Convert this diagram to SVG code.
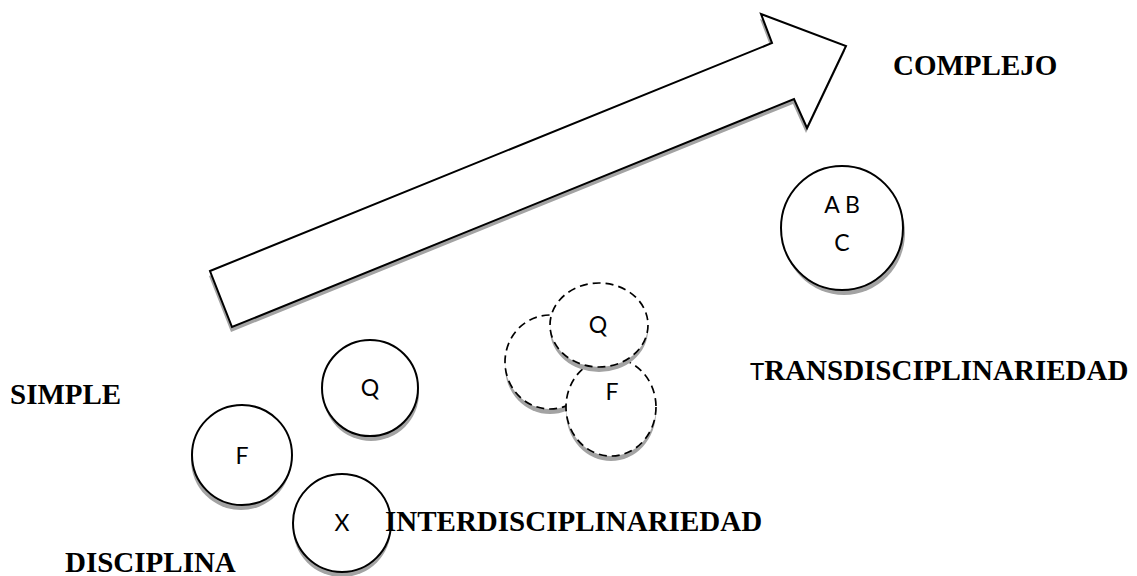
<svg xmlns="http://www.w3.org/2000/svg" width="1137" height="576" viewBox="0 0 1137 576">
  <style>
    .shape { fill: #ffffff; stroke: #000000; stroke-width: 2; }
    .dash { fill: #ffffff; stroke: #000000; stroke-width: 1.7; stroke-dasharray: 8 5; }
    .shadow { fill: #a3a3a3; stroke: none; }
    .lbl { font-family: Lato, "Open Sans", "Liberation Sans", sans-serif; font-size: 23px; fill: #000000; text-anchor: middle; }
    .title { font-family: "Liberation Serif", "Times New Roman", serif; font-weight: bold; font-size: 29px; fill: #000000; }
  </style>
  <rect width="1137" height="576" fill="#ffffff"/>

  <!-- progression arrow -->
  <g id="arrow">
    <polygon class="shadow" transform="translate(-1,5)" points="210,271 772,43 761,14 846,46 807,128 794,99 232,327"/>
    <polygon class="shape" points="210,271 772,43 761,14 846,46 807,128 794,99 232,327"/>
  </g>

  <!-- disciplines -->
  <g id="disc-f">
    <circle class="shadow" cx="241" cy="460" r="50"/>
    <circle class="shape" cx="242" cy="455" r="50"/>
    <text class="lbl" x="242" y="464">F</text>
  </g>
  <g id="disc-q">
    <circle class="shadow" cx="371" cy="393" r="48"/>
    <circle class="shape" cx="370" cy="388" r="48"/>
    <text class="lbl" x="370" y="396">Q</text>
  </g>
  <g id="disc-x">
    <circle class="shadow" cx="342" cy="528" r="49"/>
    <circle class="shape" cx="342" cy="523" r="49"/>
    <text class="lbl" x="342" y="531">X</text>
  </g>

  <!-- interdisciplinary cluster -->
  <g id="inter-left">
    <ellipse class="shadow" cx="550" cy="367" rx="45" ry="47"/>
    <ellipse class="dash" cx="550" cy="362" rx="45" ry="47"/>
  </g>
  <g id="inter-f">
    <ellipse class="shadow" cx="611" cy="412" rx="45" ry="49"/>
    <ellipse class="dash" cx="611" cy="407" rx="45" ry="49"/>
    <text class="lbl" x="612" y="400">F</text>
  </g>
  <g id="inter-q">
    <ellipse class="shadow" cx="599" cy="330" rx="49" ry="42"/>
    <ellipse class="dash" cx="599" cy="325" rx="49" ry="42"/>
    <text class="lbl" x="598" y="333">Q</text>
  </g>

  <!-- transdisciplinary -->
  <g id="trans-abc">
    <ellipse class="shadow" cx="844" cy="233" rx="61" ry="62"/>
    <ellipse class="shape" cx="842" cy="228" rx="61" ry="62"/>
    <text class="lbl" x="842" y="213">A B</text>
    <text class="lbl" x="842" y="251">C</text>
  </g>

  <!-- stage labels -->
  <g id="labels">
    <text class="title" x="10" y="404">SIMPLE</text>
    <text class="title" x="65" y="572">DISCIPLINA</text>
    <text class="title" x="385" y="531">INTERDISCIPLINARIEDAD</text>
    <text class="title" x="750" y="380"><tspan font-family="Lato, 'Liberation Sans', sans-serif" font-weight="normal" font-size="24">T</tspan>RANSDISCIPLINARIEDAD</text>
    <text class="title" x="893" y="75">COMPLEJO</text>
  </g>
</svg>
